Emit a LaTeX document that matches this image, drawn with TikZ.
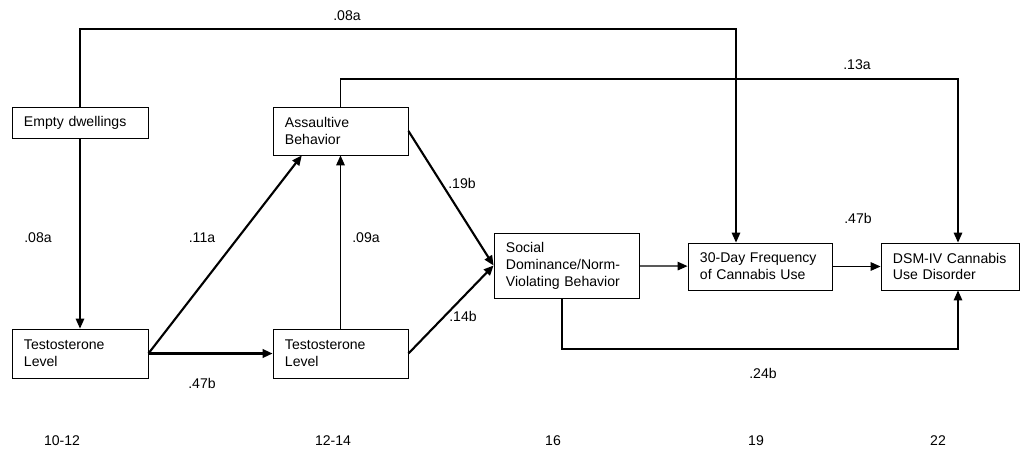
\documentclass[tikz,border=0pt]{standalone}
\usepackage{fontspec}
\setmainfont{Liberation Sans}
\usetikzlibrary{arrows.meta,calc}

\begin{document}
\begin{tikzpicture}[x=0.025cm,y=-0.025cm,
  font=\fontsize{10}{12}\selectfont,
  box/.style={draw,line width=0.6pt,align=left,inner xsep=0.3cm,inner ysep=0pt},
  arr/.style={line width=0.9pt,-{Triangle[length=7pt,width=6pt]}},
  thickarr/.style={arr,line width=1.5pt},
  lbl/.style={inner sep=0pt}]

\useasboundingbox (0,0) rectangle (1020,456);

% boxes
\node[box,text width=2.8cm,minimum height=0.775cm] (ed) at (80,122.5) {Empty~dwellings};
\node[box,text width=2.775cm,minimum height=1.2cm] (ab) at (340.5,131) {Assaultive\\Behavior};
\node[box,text width=2.8cm,minimum height=1.225cm] (tl1) at (80,353.5) {Testosterone\\Level};
\node[box,text width=2.775cm,minimum height=1.225cm] (tl2) at (340.5,353.5) {Testosterone\\Level};
\node[box,text width=3.025cm,minimum height=1.625cm] (sd) at (566.5,265.5) {Social\\Dominance/Norm-\\Violating~Behavior};
\node[box,text width=3.0cm,minimum height=1.175cm] (fq) at (760,266.5) {30-Day~Frequency\\of~Cannabis~Use};
\node[box,text width=2.85cm,minimum height=1.175cm] (dsm) at (950,266.5) {DSM-IV~Cannabis\\Use~Disorder};

% bends
\coordinate (c1) at (736,29);
\coordinate (c2) at (958,79);
\coordinate (c3) at (562,349);
\coordinate (c4) at (958,349);

% paths
\draw[arr] (ed) -- (tl1);
\draw[arr] (ed.north) |- (c1) -- (fq.north -| c1);
\draw[arr] (ab.north) |- (c2) -- (dsm.north -| c2);
\draw[arr] (sd.south -| c3) -- (c3) -- (c4) -- (dsm.south -| c4);
\draw[thickarr] (tl1.east) -- ($(ab.south west)!0.215!(ab.south east)$);
\draw[thickarr] (tl1) -- (tl2);
\draw[arr] (tl2) -- (ab);
\draw[thickarr] (ab.east) -- (sd.west);
\draw[thickarr] (tl2.east) -- (sd.west);
\draw[arr] (sd) -- (fq);
\draw[arr] (fq) -- (dsm);

% coefficients
\node[lbl] (k1) at (347,16) {.08a};
\node[lbl] (k2) at (857,65) {.13a};
\node[lbl] (k3) at (462,183) {.19b};
\node[lbl] (k4) at (858,218) {.47b};
\node[lbl] (k5) at (38,238) {.08a};
\node[lbl] (k6) at (202,238) {.11a};
\node[lbl] (k7) at (366,238) {.09a};
\node[lbl] (k8) at (463,316) {.14b};
\node[lbl] (k9) at (202,383) {.47b};
\node[lbl] (k10) at (763,373) {.24b};

% ages
\node[lbl] (a1) at (62,441) {10-12};
\node[lbl] (a2) at (333,441) {12-14};
\node[lbl] (a3) at (553,441) {16};
\node[lbl] (a4) at (756,441) {19};
\node[lbl] (a5) at (938,441) {22};
\end{tikzpicture}
\end{document}
